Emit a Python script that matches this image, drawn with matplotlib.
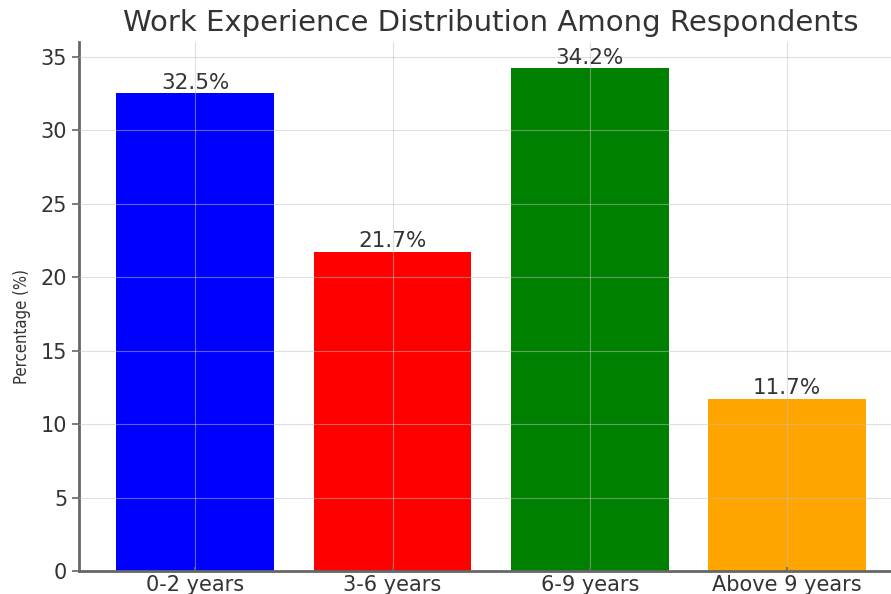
import matplotlib
matplotlib.use("Agg")
import matplotlib.pyplot as plt

# work experience buckets and share of respondents (%)
categories = ["0-2 years", "3-6 years", "6-9 years", "Above 9 years"]
percentages = [32.5, 21.7, 34.2, 11.7]
bar_colors = ["blue", "red", "green", "orange"]
y_ticks = [0, 5, 10, 15, 20, 25, 30, 35]

text_color = "#333333"
spine_color = "#666666"

fig = plt.figure(figsize=(8.91, 5.94), dpi=100)
# axes runs slightly past the right edge of the figure
ax = fig.add_axes([0.0887, 0.0387, 0.925, 0.8906])

bars = ax.bar(categories, percentages, color=bar_colors, width=0.8)
for rect, val in zip(bars, percentages):
    ax.text(rect.get_x() + rect.get_width() / 2, val + 0.05, f"{val}%",
            ha="center", va="bottom", fontsize=15.5, color=text_color)

ax.set_ylim(0, 36)
ax.set_xlim(-0.59, 3.59)
ax.set_yticks(y_ticks)
ax.tick_params(axis="y", labelsize=15, colors=spine_color, labelcolor=text_color,
               length=5, width=1.2, direction="out")
ax.tick_params(axis="x", labelsize=15, colors=spine_color, labelcolor=text_color,
               length=3, width=1.2, direction="in", pad=3)

ax.grid(True, color="#c0c0c0", linestyle="-", linewidth=0.8, alpha=0.5)
ax.set_axisbelow(False)

for side in ["top", "right"]:
    ax.spines[side].set_visible(False)
for side in ["left", "bottom"]:
    ax.spines[side].set_color(spine_color)
    ax.spines[side].set_linewidth(2)

fig.text(0.551, 0.962, "Work Experience Distribution Among Respondents",
         ha="center", va="center", fontsize=21, color=text_color)
fig.text(0.025, 0.45, "Percentage (%)", rotation=90, ha="center", va="center",
         fontsize=12, fontstretch="condensed", color=text_color)

fig.savefig("out.png", dpi=100)
